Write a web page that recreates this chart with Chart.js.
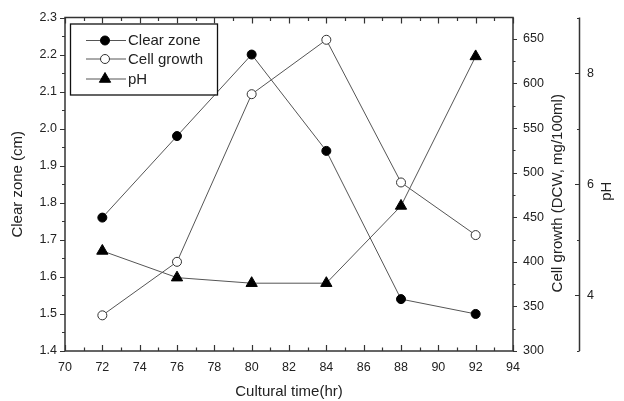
<!DOCTYPE html>
<html>
<head>
<meta charset="utf-8">
<script src="https://cdn.jsdelivr.net/npm/chart.js@4"></script>
<style>
html,body{margin:0;padding:0;background:#fff;}
#wrap{width:624px;height:401px;position:relative;}
</style>
</head>
<body>
<div id="wrap"><canvas id="c" width="624" height="401"></canvas></div>
<script>
const times = [72, 76, 80, 84, 88, 92];
const clearZone = [1.76, 1.98, 2.20, 1.94, 1.54, 1.50];
const cellGrowth = [340, 400, 588, 649, 489, 430];
const phValues = [4.80, 4.32, 4.22, 4.22, 5.61, 8.30];

const seriesNames = ['Clear zone', 'Cell growth', 'pH'];
const xTickValues = [70, 72, 74, 76, 78, 80, 82, 84, 86, 88, 90, 92, 94];
const leftTickValues = [1.4, 1.5, 1.6, 1.7, 1.8, 1.9, 2.0, 2.1, 2.2, 2.3];
const cellTickValues = [300, 350, 400, 450, 500, 550, 600, 650];
const phTickValues = [4, 6, 8];

const xTitle = 'Cultural time(hr)';
const leftTitle = 'Clear zone (cm)';
const cellTitle = 'Cell growth (DCW, mg/100ml)';
const phTitle = 'pH';

const FONT = "'Liberation Sans', Arial, sans-serif";
const TXT = '#222';
const AX = '#333';
const LINE = '#555';

function pts(ys) { return times.map((t, i) => ({x: t, y: ys[i]})); }
function setTicks(arr) { return s => { s.ticks = arr.map(v => ({value: v})); }; }

const decor = {
  id: 'decor',
  afterDraw(chart) {
    const ctx = chart.ctx;
    const a = chart.chartArea;
    const sx = chart.scales.x, sy = chart.scales.y, s1 = chart.scales.y1, s2 = chart.scales.y2;
    ctx.save();
    ctx.strokeStyle = AX;
    ctx.lineWidth = 1.5;
    ctx.strokeRect(a.left, a.top, a.right - a.left, a.bottom - a.top);
    ctx.lineWidth = 1.2;
    ctx.beginPath();
    for (let v = 70; v <= 94; v += 1) {
      const px = Math.round(sx.getPixelForValue(v)) + 0.5;
      const len = (v % 2 === 0) ? 6 : 3.5;
      ctx.moveTo(px, a.bottom); ctx.lineTo(px, a.bottom - len);
      ctx.moveTo(px, a.top); ctx.lineTo(px, a.top + len);
    }
    for (let k = 0; k <= 18; k++) {
      const v = 1.4 + k * 0.05;
      const py = Math.round(sy.getPixelForValue(v)) + 0.5;
      const len = (k % 2 === 0) ? 5 : 3;
      ctx.moveTo(a.left, py); ctx.lineTo(a.left - len, py);
    }
    for (let v = 300; v <= 650; v += 25) {
      const py = Math.round(s1.getPixelForValue(v)) + 0.5;
      const len = (v % 50 === 0) ? 4 : 2.5;
      ctx.moveTo(a.right, py); ctx.lineTo(a.right + len, py);
    }
    ctx.stroke();
    const pxh = Math.round(s2.left) + 0.5;
    ctx.lineWidth = 1.5;
    ctx.beginPath();
    ctx.moveTo(pxh, a.top); ctx.lineTo(pxh, a.bottom);
    ctx.stroke();
    ctx.lineWidth = 1.2;
    ctx.beginPath();
    for (let v = 3; v <= 9; v += 1) {
      const py = Math.round(s2.getPixelForValue(v)) + 0.5;
      const len = (v % 2 === 0) ? 4.5 : 2.5;
      ctx.moveTo(pxh, py); ctx.lineTo(pxh - len, py);
    }
    ctx.stroke();

    const cy = (a.top + a.bottom) / 2 + 9;
    ctx.fillStyle = TXT;
    ctx.font = '15px ' + FONT;
    ctx.textAlign = 'center';
    ctx.textBaseline = 'middle';
    ctx.save();
    ctx.translate(s1.left + 45, cy);
    ctx.rotate(-Math.PI / 2);
    ctx.fillText(cellTitle, 0, 0);
    ctx.restore();
    ctx.save();
    ctx.translate(s2.left + 28, cy - 2);
    ctx.rotate(-Math.PI / 2);
    ctx.fillText(phTitle, 0, 0);
    ctx.restore();

    const lx = a.left + 5, ly = a.top + 6, lw = 147, lh = 71;
    ctx.fillStyle = '#fff';
    ctx.fillRect(lx, ly, lw, lh);
    ctx.strokeStyle = '#111';
    ctx.lineWidth = 1.3;
    ctx.strokeRect(lx + 0.5, ly + 0.5, lw, lh);
    const rows = [ly + 17, ly + 35.5, ly + 55.5];
    rows.forEach((ry, i) => {
      ctx.strokeStyle = LINE;
      ctx.lineWidth = 1;
      ctx.beginPath();
      ctx.moveTo(lx + 16, ry); ctx.lineTo(lx + 56, ry);
      ctx.stroke();
      const ds = chart.data.datasets[i];
      const opts = {
        pointStyle: ds.pointStyle,
        rotation: 0,
        radius: ds.pointRadius,
        borderWidth: ds.pointBorderWidth
      };
      ctx.fillStyle = ds.pointBackgroundColor;
      ctx.strokeStyle = ds.pointBorderColor;
      ctx.lineWidth = ds.pointBorderWidth;
      Chart.helpers.drawPoint(ctx, opts, lx + 35, ry);
      ctx.fillStyle = TXT;
      ctx.font = '15px ' + FONT;
      ctx.textAlign = 'left';
      ctx.textBaseline = 'middle';
      ctx.fillText(seriesNames[i], lx + 58, ry + 0.5);
    });
    ctx.restore();
  }
};

new Chart(document.getElementById('c'), {
  type: 'scatter',
  data: {
    datasets: [
      {
        label: seriesNames[0], data: pts(clearZone), yAxisID: 'y',
        showLine: true, borderColor: LINE, borderWidth: 1,
        pointStyle: 'circle', pointRadius: 4.5, pointBorderWidth: 1,
        pointBackgroundColor: '#000', pointBorderColor: '#000', clip: false
      },
      {
        label: seriesNames[1], data: pts(cellGrowth), yAxisID: 'y1',
        showLine: true, borderColor: LINE, borderWidth: 1,
        pointStyle: 'circle', pointRadius: 4.5, pointBorderWidth: 1,
        pointBackgroundColor: '#fff', pointBorderColor: '#333', clip: false
      },
      {
        label: seriesNames[2], data: pts(phValues), yAxisID: 'y2',
        showLine: true, borderColor: LINE, borderWidth: 1,
        pointStyle: 'triangle', pointRadius: 6.5, pointBorderWidth: 1,
        pointBackgroundColor: '#000', pointBorderColor: '#000', clip: false
      }
    ]
  },
  options: {
    responsive: false,
    animation: false,
    devicePixelRatio: 1,
    layout: {padding: {top: 17, left: 0, right: 0, bottom: 0}},
    plugins: {legend: {display: false}, tooltip: {enabled: false}},
    scales: {
      x: {
        type: 'linear', position: 'bottom', min: 70, max: 94,
        afterBuildTicks: setTicks(xTickValues),
        grid: {display: false, drawTicks: false}, border: {display: false},
        ticks: {padding: 9, color: TXT, font: {family: FONT, size: 12.5}, maxRotation: 0, autoSkip: false},
        title: {display: true, text: xTitle, color: TXT, font: {family: FONT, size: 15}, padding: {top: 0, bottom: 0}},
        afterFit: s => { s.height = 50; }
      },
      y: {
        type: 'linear', position: 'left', min: 1.4, max: 2.3,
        afterBuildTicks: setTicks(leftTickValues),
        grid: {display: false, drawTicks: false}, border: {display: false},
        ticks: {padding: 8, color: TXT, font: {family: FONT, size: 12.5}, callback: v => Number(v).toFixed(1)},
        title: {display: true, text: leftTitle, color: TXT, font: {family: FONT, size: 15}, padding: {top: 9, bottom: 0}},
        afterFit: s => { s.width = 65; }
      },
      y1: {
        type: 'linear', position: 'right', min: 300, max: 674, weight: 0,
        afterBuildTicks: setTicks(cellTickValues),
        grid: {display: false, drawTicks: false}, border: {display: false},
        ticks: {padding: 10, color: TXT, font: {family: FONT, size: 12.5}},
        afterFit: s => { s.width = 66; }
      },
      y2: {
        type: 'linear', position: 'right', min: 3, max: 9, weight: 1,
        afterBuildTicks: setTicks(phTickValues),
        grid: {display: false, drawTicks: false}, border: {display: false},
        ticks: {padding: 8, color: TXT, font: {family: FONT, size: 12.5}},
        afterFit: s => { s.width = 45; }
      }
    }
  },
  plugins: [decor]
});
</script>
</body>
</html>
